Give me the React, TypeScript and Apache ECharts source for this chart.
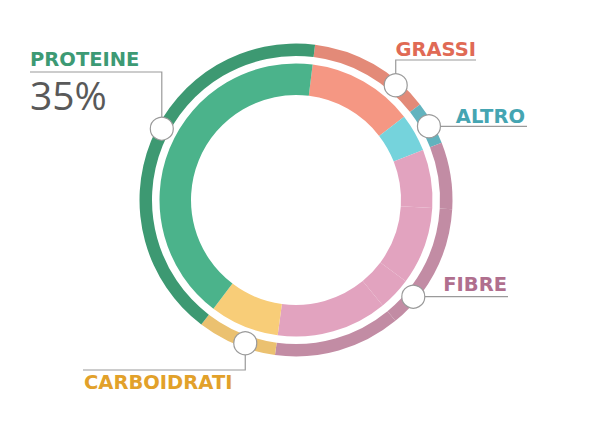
import React from 'react';
import * as echarts from 'echarts';

// slices clockwise from the top, in % of the ring
const segmentNames = ['Grassi', 'Altro', 'Fibre 1', 'Fibre 2', 'Fibre 3', 'Fibre 4', 'Carboidrati', 'Proteine'];
const segmentValues = [12.6, 4.5, 6.9, 9.2, 3.9, 13.1, 8.2, 41.6];
const innerColors = ['#f59783', '#75d3dc', '#e2a3bf', '#e2a3bf', '#e2a3bf', '#e2a3bf', '#f8cd78', '#4bb38b'];
const outerColors = ['#e38a78', '#62b3be', '#c28ca4', '#c28ca4', '#c28ca4', '#c28ca4', '#ebc170', '#3d9972'];

const labelNames = ['PROTEINE', 'GRASSI', 'ALTRO', 'FIBRE', 'CARBOIDRATI'];
const labelColors = ['#3d9a74', '#e06a55', '#45a5b2', '#b06f8e', '#e2a12a'];
const labelAngles = [298, 41, 61, 129.5, 199.5];
const highlightValue = '35%';

const CX = 296;
const CY = 200;
const MARK_R = 152;
const DOT_R = 11.5;
const LABEL_FONT = '"DejaVu Sans", sans-serif';
const VALUE_FONT = '"Open Sans", sans-serif';
const LINE = '#9a9a9a';

const anchor = (deg: number) => {
  const a = (deg * Math.PI) / 180;
  return { x: CX + MARK_R * Math.sin(a), y: CY - MARK_R * Math.cos(a) };
};

const buildLabels = (): any[] => {
  const out: any[] = [];
  const p = labelAngles.map(anchor);
  const line = (pts: number[][]) => ({
    type: 'polyline',
    z: 100,
    shape: { points: pts },
    style: { stroke: LINE, lineWidth: 1.2, fill: null },
  });
  const text = (s: string, x: number, y: number, color: string, align: string) => ({
    type: 'text',
    z: 100,
    style: {
      text: s, x, y, fill: color, align, verticalAlign: 'middle',
      font: `bold 19.5px ${LABEL_FONT}`, lineHeight: 18,
    },
  });

  // PROTEINE: up, then left
  out.push(line([[p[0].x, p[0].y - DOT_R], [p[0].x, 72], [30, 72]]));
  out.push(text(labelNames[0], 30, 59.5, labelColors[0], 'left'));
  out.push({
    type: 'text',
    z: 100,
    style: {
      text: highlightValue, x: 30, y: 94, fill: '#595959', align: 'left',
      verticalAlign: 'middle', font: `normal 39px ${VALUE_FONT}`, lineHeight: 30,
    },
  });
  // GRASSI: up, then right
  out.push(line([[p[1].x, p[1].y - DOT_R], [p[1].x, 60], [476, 60]]));
  out.push(text(labelNames[1], 476, 49, labelColors[1], 'right'));
  // ALTRO: right
  out.push(line([[p[2].x + DOT_R, p[2].y], [527, p[2].y]]));
  out.push(text(labelNames[2], 525, 116.5, labelColors[2], 'right'));
  // FIBRE: right
  out.push(line([[p[3].x + DOT_R, p[3].y], [508, p[3].y]]));
  out.push(text(labelNames[3], 507, 284, labelColors[3], 'right'));
  // CARBOIDRATI: down, then left
  out.push(line([[p[4].x, p[4].y + DOT_R], [p[4].x, 370], [83, 370]]));
  out.push(text(labelNames[4], 84, 382.5, labelColors[4], 'left'));

  p.forEach((pt) =>
    out.push({
      type: 'circle',
      z: 101,
      shape: { cx: pt.x, cy: pt.y, r: DOT_R },
      style: { fill: '#ffffff', stroke: LINE, lineWidth: 1.2 },
    }),
  );
  return out;
};

const ring = (radius: number[], colors: string[]) => ({
  type: 'pie',
  center: [CX, CY],
  radius,
  startAngle: 83,
  clockwise: true,
  silent: true,
  label: { show: false },
  labelLine: { show: false },
  itemStyle: { borderWidth: 0 },
  data: segmentNames.map((name, i) => ({
    name,
    value: segmentValues[i],
    itemStyle: { color: colors[i] },
  })),
});

export default function App() {
  const ref = React.useRef<HTMLDivElement>(null);

  React.useEffect(() => {
    if (!ref.current) return;
    const chart = echarts.init(ref.current, null, { renderer: 'svg' });
    chart.setOption({
      animation: false,
      backgroundColor: '#ffffff',
      series: [ring([105, 136.5], innerColors), ring([144, 156.5], outerColors)],
      graphic: buildLabels(),
    });
    return () => chart.dispose();
  }, []);

  return (
    <div
      ref={ref}
      style={{ position: 'absolute', left: 0, top: 0, width: 600, height: 429 }}
    />
  );
}
